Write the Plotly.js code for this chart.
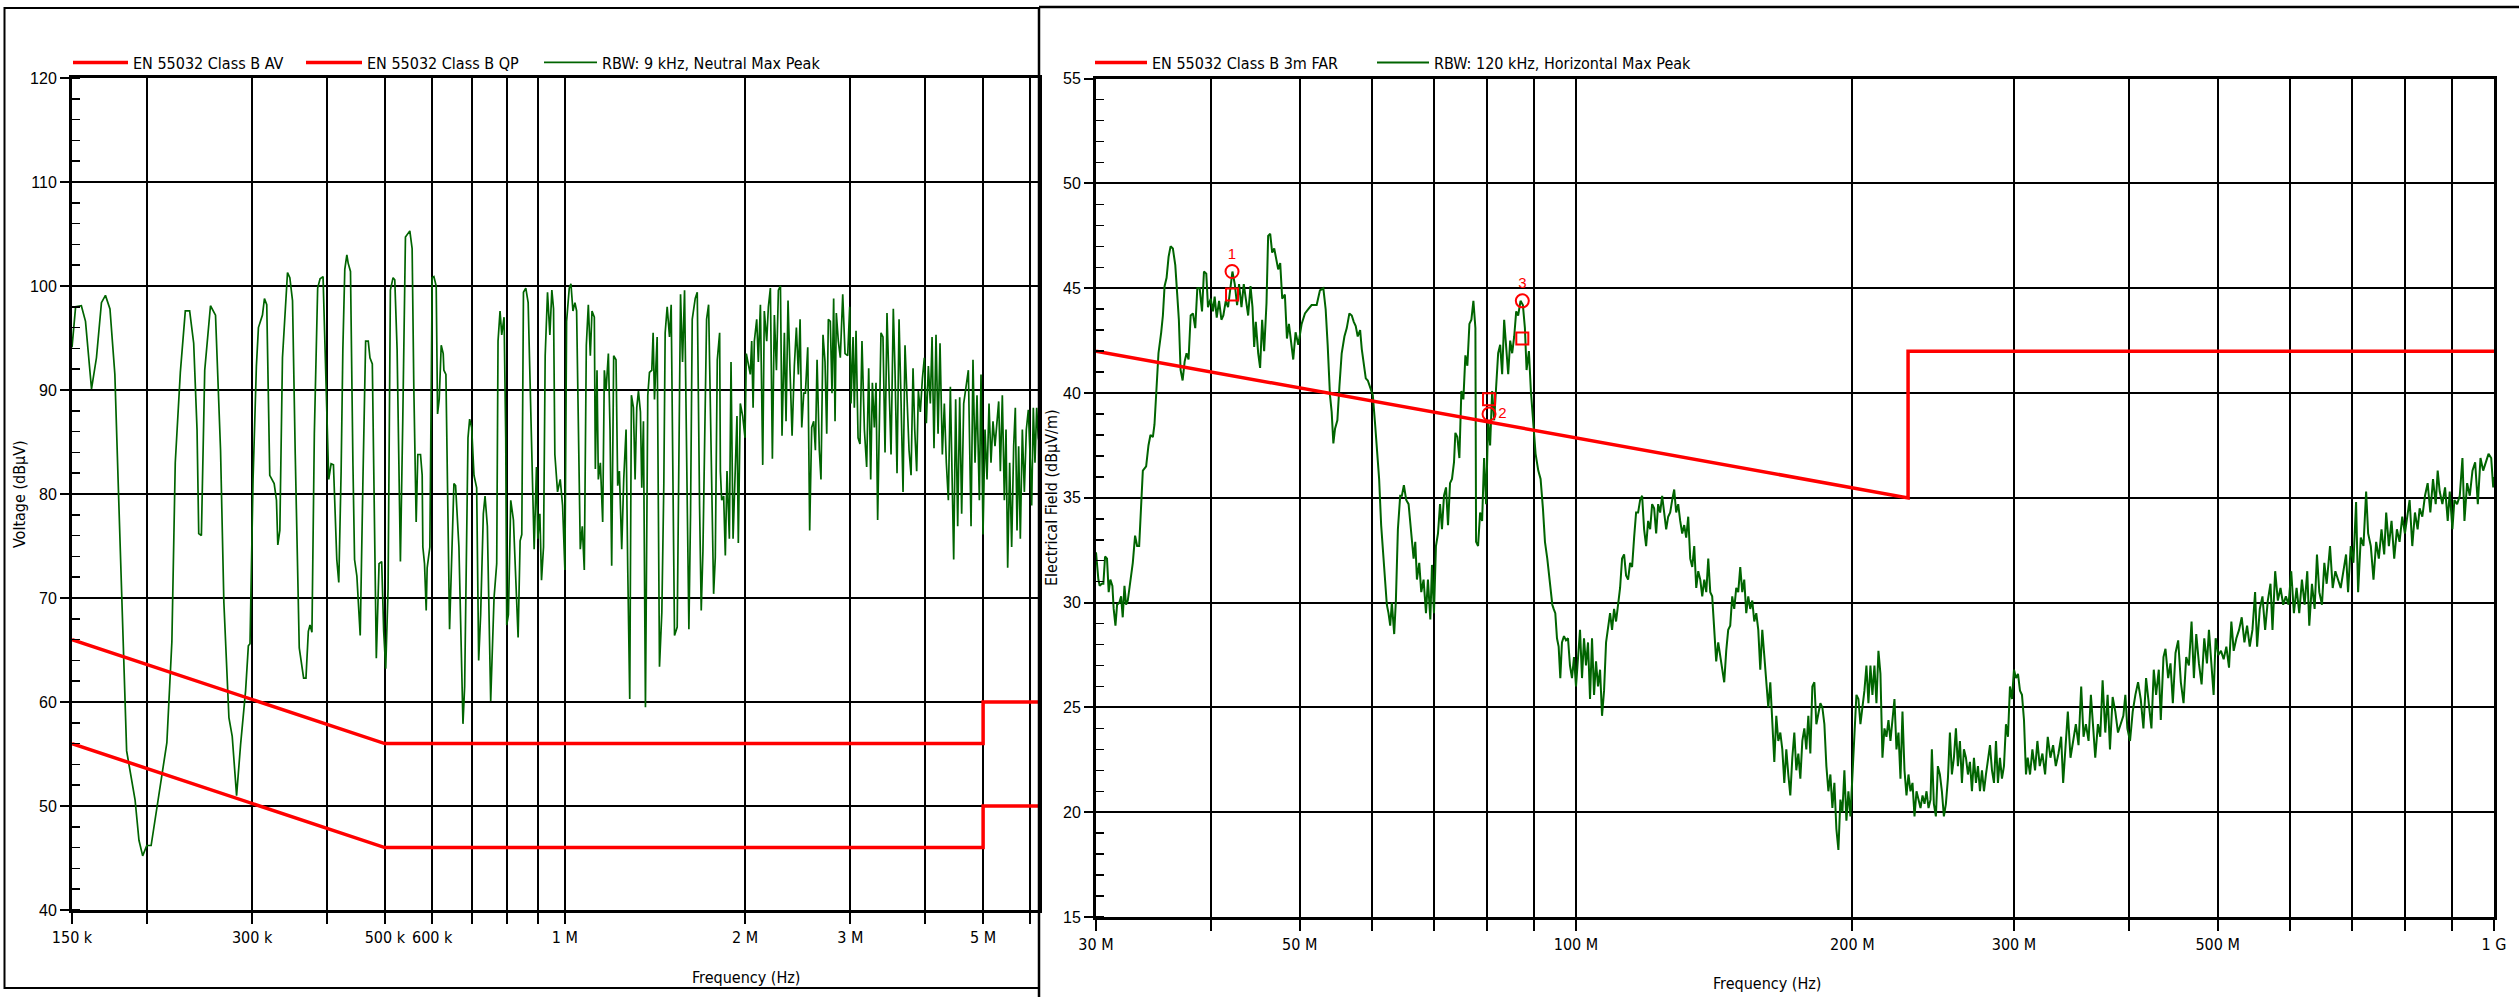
<!DOCTYPE html>
<html><head><meta charset="utf-8">
<script src="https://cdn.plot.ly/plotly-3.0.1.min.js"></script>
<style>html,body{margin:0;padding:0;background:#fff;}#chart{width:2519px;height:997px;}</style>
</head><body><div id="chart"></div>
<script>
// ---------- Conducted emission (left chart), frequency in kHz, level in dBuV ----------
const condFreqKHz = [150,152.1,155.5,158.0,161.7,164.8,168.0,170.6,173.6,176.9,179.2,181.6,185.1,191.2,194.1,196.9,200.0,203.4,209.2,216.1,220.3,223.2,227.6,232.0,235.9,239.6,242.7,244.3,246.8,250.0,255.6,260.6,265.7,269.1,274.4,277.9,282.6,287.0,292.6,295.7,297.6,301.1,305.0,307.4,312.2,314.6,317.4,321.1,326.6,329.5,331.2,333.8,337.2,343.8,346.9,350.5,354.2,359.7,365.8,369.1,372.5,374.9,377.7,381.2,386.1,389.7,394.2,396.7,399.9,402.9,406.6,410.3,415.6,418.8,422.6,425.4,428.6,432.0,434.2,438.1,442.2,445.0,449.0,454.8,459.6,464.4,469.1,472.2,476.5,480.8,483.9,489.0,494.0,497.8,501.7,506.3,
510.8,516.1,519.5,524.2,530.9,535.7,541.3,550.5,555.4,559.0,564.1,567.7,573.6,577.3,578.8,582.5,586.3,588.5,594.6,600.0,603.9,609.3,612.5,616.4,621.2,626.0,627.6,632.5,637.4,641.5,652.3,656.5,665.0,669.3,675.4,679.8,688.6,693.0,698.4,704.7,712.0,717.5,723.0,730.5,735.3,741.9,751.5,761.2,769.1,773.0,779.0,784.1,791.2,796.3,799.3,804.5,811.8,820.2,824.4,835.1,841.6,847.0,852.5,860.2,868.0,874.7,882.6,888.3,896.3,901.0,908.0,913.8,920.9,926.8,935.2,943.7,950.9,957.1,962.0,972.0,982.1,991.0,999.9,1006.4,1016.8,1023.4,1031.3,1039.3,1046.0,1052.7,1060.9,1069.1,1077.4,1085.8,1094.2,1102.7,1109.8,1119.8,1124.2,1131.4,1137.2,1146.1,1156.4,1163.9,1171.4,1182.0,1189.6,1197.2,1206.4,1217.3,1225.2,1233.1,1244.3,1253.9,1265.3,1273.4,1283.3,1291.6,1301.6,1310.0,1318.4,1327.0,1337.2,1344.1,1352.8,1363.3,1375.6,1384.5,1397.0,1404.2,1411.5,1426.1,1439.0,1452.0,1463.2,1470.8,1482.2,1495.6,1505.2,1514.9,1524.7,1540.5,1548.4,1560.4,1572.5,1584.7,1601.0,1611.4,1621.7,1632.2,1651.2,1664.0,1679.0,1689.8,1700.8,1711.7,1725.0,1738.4,1756.4,1772.3,1783.7,1797.5,1813.8,
1819,1828,1842,1854,1866,1883,1895,1910,1924,1939,1949,1964,1982,2000,2010,2026,2041,2052,2063,2073,2092,2105,2122,2141,2154,2174,2188,2205,2222,2239,2257,2274,2292,2306,2327,2342,2360,2378,2397,2418,2437,2456,2472,2488,2507,2523,2546,2565,2585,2605,2622,2639,2662,2679,2700,2721,2739,2756,2777,2795,2813,2828,2842,2864,2886,2913,2939,2969,2992,3007,3031,3046,3066,3090,3113,3137,3166,3194,3219,3244,3265,3290,3311,3332,3354,3375,3401,3428,3454,3481,3508,3539,3562,3590,3618,3646,3674,3702,3731,3760,3789,3818,3843,3872,3897,3927,3958,3988,4019,4050,4081,4108,4139,4171,4204,4236,4274,4307,4340,4374,4408,4442,4465,4499,4534,4569,4604,4640,4682,4724,4773,4809,4847,4884,4928,4960,4998,5037,5076,5115,5154,5194,5234,5275,5309,5343,5384,5426,5461,5496,5538,5581,5624,5660,5697,5733,5770,5815,5860,5905,5951,5997,6028,6066,6105,6145,6184,6250];
const condPeak = [94.1,98.0,98.1,96.6,90.1,93.1,98.4,99.1,97.8,91.5,81.0,70.9,55.3,50.6,46.7,45.2,46.2,46.2,50.6,56.1,65.8,83.0,91.7,97.6,97.6,94.5,86.2,76.2,76.0,91.9,98.1,97.2,84.2,69.6,58.5,56.7,51.0,55.9,61.1,65.4,65.6,81.4,92.3,96.0,97.2,98.8,98.2,81.8,81.0,79.4,75.1,76.5,93.1,101.3,100.8,98.6,83.8,65.2,62.3,62.3,66.8,67.4,66.7,85.8,99.8,100.7,100.9,95.1,89.1,81.4,82.9,82.8,73.7,71.5,82.2,93.9,101.6,103.0,102.2,101.4,83.0,73.7,72.1,66.4,81.4,94.7,94.7,93.1,92.5,78.5,64.2,73.3,73.5,66.8,63.2,70.9,
99.6,100.8,100.6,93.9,73.5,87.0,104.7,105.3,103.6,90.3,77.3,83.8,83.8,81.8,74.9,73.3,68.8,72.9,74.9,100.8,100.9,100.0,87.7,89.1,94.3,93.5,91.9,91.5,78.9,67.0,81.0,80.8,74.9,66.8,57.9,61.5,85.4,87.2,86.4,81.8,80.6,64.0,68.4,78.1,79.8,76.9,60.1,70.0,73.3,94.7,97.6,95.3,97.0,85.4,67.4,68.4,79.4,77.5,73.7,66.2,75.5,76.1,99.4,99.8,98.4,90.3,81.0,74.7,82.6,75.7,78.1,71.7,74.9,93.3,99.4,95.3,99.6,97.8,83.8,80.2,81.4,78.9,72.7,96.6,99.8,100.2,97.6,98.4,97.6,87.9,74.7,76.9,72.7,94.3,98.2,93.3,97.6,97.0,82.4,91.9,81.4,83.0,77.3,91.9,89.9,93.5,86.2,73.1,93.3,92.9,80.8,82.2,74.7,81.4,86.2,72.9,60.3,89.5,88.3,81.4,88.3,89.9,87.9,80.6,87.0,59.5,89.5,91.7,91.9,95.5,89.1,95.1,63.4,68.6,81.0,95.5,98.0,95.1,98.2,82.2,66.4,67.2,78.3,99.2,92.7,99.6,79.4,67.0,78.1,96.8,98.8,99.4,78.9,68.8,74.5,83.0,96.8,98.2,81.0,70.4,73.9,92.9,95.5,
82.2,79.4,79.8,74.1,82.2,75.7,92.7,75.7,81.4,87.5,75.3,88.7,87.5,85.4,93.5,92.5,91.5,94.7,88.3,94.7,96.8,92.7,98.2,82.8,97.6,94.7,98.0,99.8,83.4,97.2,91.9,99.6,100.0,85.6,95.5,87.0,98.6,91.9,85.6,92.3,96.0,91.5,96.8,86.4,89.7,89.7,94.1,76.5,86.4,87.0,84.2,92.9,84.2,81.4,95.3,92.7,85.8,96.8,96.6,89.7,98.8,87.0,97.4,94.7,93.1,99.2,93.5,93.3,98.0,88.7,95.1,88.3,95.7,85.4,84.8,94.7,86.2,82.6,92.1,81.4,90.7,86.4,90.7,77.5,86.4,95.5,95.1,84.0,97.4,91.1,83.8,97.8,91.9,82.0,96.8,88.9,80.2,94.3,89.1,84.2,81.8,92.1,86.2,82.2,89.9,87.9,91.1,93.1,86.8,92.3,88.7,95.1,84.4,95.3,85.8,94.5,83.8,88.7,83.0,79.4,90.3,81.4,73.7,89.1,76.9,89.3,78.1,88.7,90.3,91.9,76.9,92.9,83.0,89.5,79.4,91.5,76.1,86.2,81.4,88.7,83.0,87.0,84.6,86.6,88.9,82.2,89.5,79.4,86.2,72.9,83.0,74.9,84.6,88.3,76.5,84.6,75.7,86.2,80.2,86.2,88.1,83.0,78.9,88.3,83.0,88.3,85.4,84.0];
const condLimitFreqKHz = [150, 500, 5000, 5000, 30000];
const condLimitQP = [66, 56, 56, 60, 60];
const condLimitAV = [56, 46, 46, 50, 50];
const condTickVals = [150e3,200e3,300e3,400e3,500e3,600e3,700e3,800e3,900e3,1e6,2e6,3e6,4e6,5e6,6e6];
const condTickText = ['150 k','','300 k','','500 k','600 k','','','','1 M','2 M','3 M','','5 M',''];

// ---------- Radiated emission (right chart), frequency in MHz, level in dBuV/m ----------
const radFreqMHz = [30.00,30.18,30.28,30.43,30.56,30.69,30.84,30.97,31.10,31.26,31.36,31.50,31.63,31.81,31.95,32.08,32.22,32.35,32.49,32.71,32.90,33.09,33.26,33.43,33.60,33.74,34.02,34.22,34.39,34.60,34.74,34.92,35.09,35.33,35.48,35.63,35.81,35.99,36.17,36.38,36.60,36.78,36.93,37.09,37.28,37.47,37.65,37.84,38.04,38.26,38.48,38.68,38.91,39.14,39.33,39.56,39.73,40.00,40.23,40.40,40.61,40.85,41.09,41.29,41.54,41.78,42.06,42.24,42.49,42.74,42.95,43.21,43.46,43.68,43.94,44.20,44.42,44.61,44.79,45.06,45.28,45.51,45.74,46.01,46.20,46.44,46.67,46.91,47.14,47.38,47.62,47.86,48.18,48.43,48.67,48.92,49.20,49.49,49.83,50.25,50.67,51.09,51.52,52.18,52.61,53.06,53.37,53.64,53.95,54.18,54.41,54.64,54.96,55.24,55.56,55.94,56.27,56.64,56.98,57.27,57.55,57.84,58.19,58.43,58.72,59.02,59.32,59.67,60.07,60.42,60.73,61.03,61.34,61.70,61.96,62.22,62.48,62.75,63.01,63.38,63.65,63.97,64.34,64.61,64.94,65.32,65.71,66.15,66.54,66.82,67.10,67.49,67.83,68.23,68.64,68.98,69.39,69.68,70.03,70.38,70.74,71.10,71.45,71.81,72.18,72.54,72.91,73.27,73.64,73.89,74.26,74.64,75.01,75.39,75.77,76.15,76.54,76.92,77.31,77.70,77.83,78.22,78.62,79.02,79.41,79.81,80.22,80.62,81.03,81.44,81.85,82.26,82.68,83.09,83.51,83.93,84.36,84.78,85.21,85.64,86.07,86.50,87.01,87.53,87.97,88.34,88.86,89.30,89.83,90.36,90.97,91.50,92.04,92.51,93.05,93.60,94.23,
94.55,94.94,95.34,95.74,96.14,96.54,97.03,97.52,98.01,98.50,99.00,99.50,100.00,100.50,101.01,101.52,102.03,102.54,103.06,103.58,104.10,104.63,105.15,105.68,106.22,106.75,107.29,107.83,108.37,108.92,109.47,110.02,110.57,111.13,111.69,112.25,112.82,113.38,113.96,114.53,115.11,115.69,116.27,116.86,117.45,118.04,118.63,119.23,119.83,120.44,121.04,121.65,122.27,122.88,123.50,124.12,124.75,125.38,126.01,126.65,127.29,127.93,128.57,129.22,129.87,130.53,131.18,131.84,132.51,133.18,133.85,134.52,135.20,135.88,136.57,137.25,137.95,138.64,139.34,140.04,140.72,141.43,142.14,142.86,143.58,144.30,145.03,145.76,146.49,147.23,147.97,148.72,149.47,150.22,150.98,151.74,152.50,153.27,154.04,154.82,155.60,156.38,157.17,157.96,158.76,159.56,160.36,161.17,161.98,162.80,163.62,164.44,165.27,166.10,166.94,167.78,168.62,169.47,170.32,171.18,172.04,172.91,173.78,174.66,175.54,176.42,177.31,178.20,179.10,180.00,180.91,181.82,182.74,183.66,184.58,185.51,186.45,187.39,188.33,189.28,190.23,191.19,192.15,193.12,194.09,195.07,196.05,197.04,198.03,199.03,200.03,201.04,202.05,203.07,204.09,205.12,206.15,207.19,208.23,209.28,210.33,211.39,212.46,213.53,214.60,215.68,216.77,217.86,218.96,220.06,221.17,222.28,223.40,224.53,225.66,226.80,227.94,229.09,230.24,231.40,232.57,233.74,234.92,236.10,237.29,238.49,239.69,240.90,242.11,243.33,244.15,245.38,246.62,247.86,249.11,250.36,251.62,252.89,254.17,255.45,256.73,258.03,259.33,260.63,261.95,263.27,264.59,265.93,267.27,268.61,269.97,271.33,272.69,274.07,275.45,276.84,278.23,279.63,281.04,282.46,283.88,285.31,286.75,288.16,289.61,291.07,292.54,294.01,295.49,296.98,298.48,299.98,301.49,303.01,304.54,306.07,307.61,309.16,
310.48,312.32,314.16,316.27,318.13,320.01,322.16,324.33,326.51,328.71,330.92,333.16,335.40,337.66,339.36,341.64,343.37,345.68,348.01,350.35,352.71,355.08,357.17,359.28,361.70,363.82,365.97,367.82,370.29,372.47,374.67,377.19,379.41,381.64,384.22,386.80,389.41,392.03,394.67,396.66,398.66,401.34,404.05,406.77,409.51,412.27,415.04,417.83,420.65,423.48,425.97,428.48,431.37,433.54,436.46,438.66,441.62,444.22,446.83,449.84,452.87,455.92,458.99,462.08,465.19,468.32,471.08,473.86,477.05,480.26,483.49,486.75,489.20,492.50,494.98,497.48,500.83,504.20,507.60,511.02,514.46,517.49,520.54,524.04,527.57,531.12,534.70,538.30,541.92,545.57,549.24,552.01,555.73,559.47,563.24,567.03,570.85,573.73,577.59,581.48,585.40,589.34,593.30,597.30,601.32,605.37,609.44,613.55,617.68,621.84,626.02,629.18,633.42,637.68,641.44,645.22,649.56,653.39,657.24,662.77,667.23,671.73,676.25,680.80,685.39,690.00,693.48,698.15,702.85,707.58,711.16,715.94,720.76,725.62,729.28,734.19,739.13,744.11,749.12,754.16,759.24,763.07,768.21,773.38,778.59,783.83,789.11,794.42,799.77,805.15,809.22,814.66,820.15,825.67,829.84,835.42,841.05,846.71,852.41,858.15,863.93,868.29,872.67,878.55,884.46,890.42,894.91,900.94,905.48,911.58,917.72,923.90,928.56,934.81,941.10,947.44,953.82,960.24,966.71,973.22,979.77,986.37,993.01,998.02,1000];
const radPeak = [32.4,31.1,30.8,30.9,30.9,32.2,32.1,30.5,31.1,30.8,29.7,28.9,29.9,30.0,30.3,29.3,30.8,29.9,30.1,31.0,31.9,33.2,32.7,32.7,34.9,36.3,36.5,37.5,38.0,37.9,38.5,40.1,41.9,42.9,43.7,45.1,45.5,46.5,47.0,46.9,46.1,44.7,43.5,41.1,40.6,41.5,41.9,41.6,43.7,43.8,43.1,45.0,45.0,43.9,45.8,45.7,44.1,44.5,43.9,44.6,43.6,44.4,43.5,43.7,44.4,44.1,45.2,45.8,45.2,44.2,45.2,44.1,45.2,44.4,43.7,45.1,44.1,42.2,43.4,41.9,41.2,43.5,42.0,44.3,47.5,47.6,46.7,46.9,46.4,45.9,46.2,44.5,44.7,42.6,43.3,42.5,41.6,42.9,42.3,43.3,43.8,44.0,44.2,44.2,44.9,45.0,44.0,42.3,39.9,39.1,37.6,38.3,38.7,40.3,41.9,42.7,43.1,43.8,43.7,43.4,43.2,42.7,43.0,42.1,41.4,40.7,40.6,40.3,39.9,38.5,37.2,35.9,33.7,32.1,31.3,29.9,29.5,28.9,30.0,28.5,30.1,33.5,35.1,35.1,35.6,34.9,34.7,33.1,32.1,32.9,31.1,31.9,30.5,31.1,29.5,31.1,29.2,31.8,29.5,32.7,33.3,34.7,33.5,35.1,35.5,33.7,35.7,35.9,36.7,38.1,37.9,36.9,40.1,39.7,41.8,41.3,43.3,43.5,44.4,43.1,32.9,32.7,34.3,33.9,36.9,34.7,38.7,37.5,40.1,38.7,40.3,41.9,42.3,40.9,43.5,42.1,40.9,42.5,41.9,42.7,43.9,43.7,44.4,44.2,43.1,41.1,42.0,40.1,38.5,37.1,36.3,35.9,34.5,32.9,32.1,31.1,29.9,
29.7,29.5,28.3,27.9,26.4,28.1,28.4,28.2,28.3,27.0,26.4,27.4,26.0,27.4,28.7,26.4,28.3,27.0,28.1,25.4,28.3,25.6,27.2,26.0,26.8,24.6,25.8,28.1,28.7,29.5,28.7,29.7,29.1,29.9,30.7,32.1,32.3,31.3,31.1,31.9,31.7,33.1,34.3,34.3,34.9,35.1,33.5,32.7,33.9,33.5,34.7,34.5,33.3,34.7,34.3,35.1,34.3,33.5,34.1,34.3,34.9,35.4,34.3,34.7,33.9,33.3,33.7,33.1,34.1,32.1,31.7,32.7,30.7,31.5,31.1,30.3,31.1,30.5,32.1,30.5,30.3,28.7,27.2,28.1,27.4,26.8,26.2,27.7,28.7,28.9,30.3,29.7,30.7,30.5,31.7,30.5,31.1,29.5,30.3,29.7,30.1,29.1,29.5,28.7,26.8,28.7,27.4,26.2,25.0,26.2,24.0,22.4,24.6,23.4,23.8,23.0,21.4,23.0,21.8,20.8,22.6,23.8,22.0,22.8,21.6,23.4,24.0,23.0,24.6,22.8,26.0,26.2,24.2,24.8,25.2,25.0,24.2,22.2,21.0,21.8,20.2,21.4,19.2,18.2,20.6,20.0,22.0,19.6,21.0,19.8,21.8,23.6,25.6,25.4,24.2,25.0,25.8,27.0,25.2,27.0,25.6,27.0,25.2,27.7,26.6,22.6,24.0,23.6,24.4,23.4,24.6,25.4,23.0,23.8,21.6,24.8,22.0,20.8,21.8,21.0,21.4,19.8,21.0,20.6,20.2,20.8,20.4,21.0,20.2,20.6,23.0,20.4,19.8,22.2,21.8,21.0,19.8,20.4,21.6,23.8,21.8,22.6,24.0,22.2,23.4,21.4,23.0,22.6,21.8,22.4,21.0,22.6,21.4,22.2,21.0,22.0,21.0,21.8,22.6,23.2,22.0,21.4,23.4,21.4,22.6,21.6,22.2,24.2,23.6,26.0,25.4,26.8,26.4,26.6,25.8,25.6,24.4,21.8,
22.6,21.8,23.0,22.0,23.4,22.2,22.8,21.8,23.6,22.6,23.2,22.2,22.8,23.6,21.4,23.4,24.8,22.6,23.4,24.2,23.2,26.0,23.6,24.2,23.4,25.6,24.0,22.6,24.2,23.6,26.3,23.8,25.6,23.0,25.5,24.8,23.8,24.2,24.6,25.6,24.0,23.4,24.8,25.6,26.2,25.4,24.0,26.4,25.2,24.0,26.8,25.6,26.8,24.4,27.4,27.8,26.4,27.1,25.2,27.6,28.2,26.2,25.2,27.4,27.0,29.1,26.4,28.5,27.1,26.1,28.3,27.1,28.7,26.7,25.6,28.3,27.5,27.7,27.3,27.9,26.9,29.1,27.7,28.3,28.7,29.3,28.1,28.9,27.9,28.7,30.5,27.9,29.7,30.3,28.7,30.1,30.9,28.7,31.5,30.1,30.7,29.9,30.3,29.9,31.5,29.5,30.7,29.5,31.1,29.9,31.5,28.9,30.9,29.7,32.3,30.5,29.9,31.9,30.9,32.7,30.7,31.5,31.1,30.7,31.5,32.3,30.5,32.7,31.9,34.8,30.5,33.1,32.7,35.3,33.3,32.7,31.1,32.9,32.1,33.5,32.3,34.3,32.7,33.9,32.1,33.5,32.9,34.1,33.3,34.3,34.9,32.7,34.3,33.5,34.5,34.1,35.1,35.7,34.3,35.9,34.7,36.3,35.3,34.7,35.5,33.9,35.3,33.5,34.9,34.7,35.1,36.9,33.9,35.7,35.1,36.3,36.7,34.7,36.9,36.3,36.7,37.1,36.9,35.5,36.0];
const radLimitFreqMHz = [30, 230, 230, 1000];
const radLimit = [42, 35, 42, 42];
const markerFreqMHz = [42.2, 80.4, 87.4];
const markerPeak = [45.8, 39.0, 44.4];
const markerQP = [44.7, 39.7, 42.6];
const markerLabels = ['1', '2', '3'];
const radTickVals = [30e6,40e6,50e6,60e6,70e6,80e6,90e6,100e6,200e6,300e6,400e6,500e6,600e6,700e6,800e6,900e6,1e9];
const radTickText = ['30 M','','50 M','','','','','100 M','200 M','300 M','','500 M','','','','','1 G'];

// ---------- layout helpers (pixel -> paper) ----------
const W = 2519, H = 997;
const px = v => v / W;
const py = v => 1 - v / H;
const NARROW = '"Liberation Sans Narrow", "Arial Narrow", "DejaVu Sans Condensed", sans-serif';
const ARIAL = '"Liberation Sans", Arial, sans-serif';
const RED = '#ff0000', GREEN = '#006400';

const kHz = a => a.map(v => v * 1e3);
const MHz = a => a.map(v => v * 1e6);

const traces = [
  {x: kHz(condFreqKHz), y: condPeak, xaxis: 'x', yaxis: 'y', type: 'scatter', mode: 'lines',
   name: 'RBW: 9 kHz, Neutral Max Peak', line: {color: GREEN, width: 1.7}, legend: 'legend3'},
  {x: kHz(condLimitFreqKHz), y: condLimitAV, xaxis: 'x', yaxis: 'y', type: 'scatter', mode: 'lines',
   name: 'EN 55032 Class B AV', line: {color: RED, width: 3.5}, legend: 'legend'},
  {x: kHz(condLimitFreqKHz), y: condLimitQP, xaxis: 'x', yaxis: 'y', type: 'scatter', mode: 'lines',
   name: 'EN 55032 Class B QP', line: {color: RED, width: 3.5}, legend: 'legend2'},
  {x: MHz(radFreqMHz), y: radPeak, xaxis: 'x2', yaxis: 'y2', type: 'scatter', mode: 'lines',
   name: 'RBW: 120 kHz, Horizontal Max Peak', line: {color: GREEN, width: 2}, legend: 'legend5'},
  {x: MHz(radLimitFreqMHz), y: radLimit, xaxis: 'x2', yaxis: 'y2', type: 'scatter', mode: 'lines',
   name: 'EN 55032 Class B 3m FAR', line: {color: RED, width: 3.5}, legend: 'legend4'},
  {x: MHz(markerFreqMHz), y: markerQP, xaxis: 'x2', yaxis: 'y2', type: 'scatter', mode: 'markers',
   showlegend: false, marker: {symbol: 'square-open', size: 12, color: RED, line: {color: RED, width: 2}}},
  {x: MHz(markerFreqMHz), y: markerPeak, xaxis: 'x2', yaxis: 'y2', type: 'scatter', mode: 'markers+text',
   showlegend: false, text: markerLabels, textposition: ['top center', 'middle right', 'top center'],
   textfont: {color: RED, size: 15, family: ARIAL},
   marker: {symbol: 'circle-open', size: 13, color: RED, line: {color: RED, width: 2}}}
];

const xCommon = {
  type: 'log', tickmode: 'array', ticks: 'outside', ticklen: 11, tickwidth: 2, tickcolor: '#000',
  showgrid: true, gridcolor: '#000', gridwidth: 2, showline: true, linecolor: '#000', linewidth: 3,
  mirror: true, zeroline: false, tickfont: {family: NARROW, size: 16, color: '#000'}, fixedrange: true
};
const yCommon = {
  ticks: 'outside', ticklen: 9, tickwidth: 2, tickcolor: '#000',
  showgrid: true, gridcolor: '#000', gridwidth: 2, showline: true, linecolor: '#000', linewidth: 3,
  mirror: true, zeroline: false, tickfont: {family: ARIAL, size: 16, color: '#000'}, fixedrange: true
};

const legendBase = {orientation: 'h', xanchor: 'left', yanchor: 'middle', y: py(62.5),
  bgcolor: 'rgba(0,0,0,0)', borderwidth: 0, font: {family: NARROW, size: 16, color: '#000'}};

const layout = {
  width: W, height: H, margin: {l: 0, r: 0, t: 0, b: 0}, paper_bgcolor: '#fff', plot_bgcolor: '#fff',
  xaxis: Object.assign({}, xCommon, {domain: [px(72), px(1039)], anchor: 'y',
    range: [Math.log10(150e3), Math.log10(6.2e6)], tickvals: condTickVals, ticktext: condTickText}),
  yaxis: Object.assign({}, yCommon, {domain: [py(910), py(78)], anchor: 'x', range: [40, 120], dtick: 10, tick0: 0,
    minor: {ticks: 'inside', ticklen: 8, tickwidth: 1.5, tickcolor: '#000', dtick: 2, showgrid: false}}),
  xaxis2: Object.assign({}, xCommon, {domain: [px(1096), px(2494)], anchor: 'y2',
    range: [Math.log10(30e6), Math.log10(1e9)], tickvals: radTickVals, ticktext: radTickText}),
  yaxis2: Object.assign({}, yCommon, {domain: [py(917), py(78.7)], anchor: 'x2', range: [15, 55], dtick: 5, tick0: 0,
    minor: {ticks: 'inside', ticklen: 8, tickwidth: 1.5, tickcolor: '#000', dtick: 1, showgrid: false}}),
  legend: Object.assign({}, legendBase, {x: px(68), itemwidth: 55}),
  legend2: Object.assign({}, legendBase, {x: px(301), itemwidth: 56}),
  legend3: Object.assign({}, legendBase, {x: px(539), itemwidth: 53}),
  legend4: Object.assign({}, legendBase, {x: px(1090), itemwidth: 52}),
  legend5: Object.assign({}, legendBase, {x: px(1372), itemwidth: 52}),
  annotations: [
    {text: 'Voltage (dBµV)', xref: 'paper', yref: 'paper', x: px(19), y: py(494), textangle: -90,
     showarrow: false, xanchor: 'center', yanchor: 'middle', font: {family: NARROW, size: 16, color: '#000'}},
    {text: 'Frequency (Hz)', xref: 'paper', yref: 'paper', x: px(746), y: py(977),
     showarrow: false, xanchor: 'center', yanchor: 'middle', font: {family: NARROW, size: 16, color: '#000'}},
    {text: 'Electrical Field (dBµV/m)', xref: 'paper', yref: 'paper', x: px(1051), y: py(498), textangle: -90,
     showarrow: false, xanchor: 'center', yanchor: 'middle', font: {family: NARROW, size: 16, color: '#000'}},
    {text: 'Frequency (Hz)', xref: 'paper', yref: 'paper', x: px(1767), y: py(983),
     showarrow: false, xanchor: 'center', yanchor: 'middle', font: {family: NARROW, size: 16, color: '#000'}}
  ],
  shapes: [
    {type: 'rect', xref: 'paper', yref: 'paper', x0: px(4.5), x1: px(1039), y0: py(988), y1: py(8), line: {color: '#000', width: 2}},
    {type: 'line', xref: 'paper', yref: 'paper', x0: px(1039), x1: px(2519), y0: py(7), y1: py(7), line: {color: '#000', width: 2.5}},
    {type: 'line', xref: 'paper', yref: 'paper', x0: px(1039), x1: px(1039), y0: py(7), y1: py(997), line: {color: '#000', width: 2.5}}
  ]
};

Plotly.newPlot('chart', traces, layout, {displayModeBar: false, staticPlot: true});
</script>
</body></html>
